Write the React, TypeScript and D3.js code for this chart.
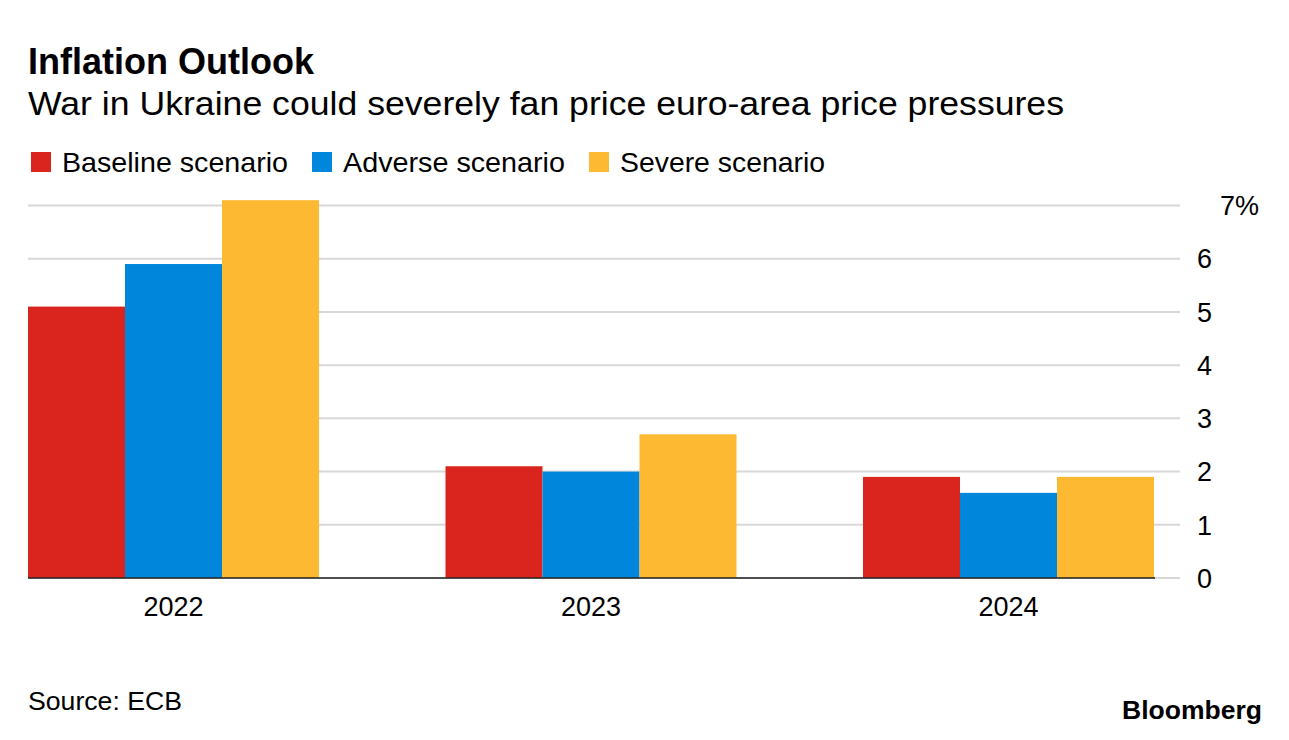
//@ts-nocheck
import { useEffect, useRef } from 'react';
import * as d3 from 'd3';

// chart data
const years = ['2022', '2023', '2024'];
const scenarios = ['Baseline scenario', 'Adverse scenario', 'Severe scenario'];
const baseline = [5.1, 2.1, 1.9];
const adverse = [5.9, 2.0, 1.6];
const severe = [7.1, 2.7, 1.9];
const yTicks = [0, 1, 2, 3, 4, 5, 6, 7];

const colors = ['#da251e', '#0087db', '#fcb931'];
const FONT = '"Liberation Sans", Arial, Helvetica, sans-serif';

const App = () => {
    const svgRef = useRef();

    useEffect(() => {
        const svg = d3.select(svgRef.current);
        svg.selectAll('*').remove();

        const left = 28;
        const barRight = 1154;
        const gridRight = 1180;
        const top = 205.5;
        const bottom = 578;

        const series = [baseline, adverse, severe];

        const x0 = d3.scaleBand().domain(years).range([left, barRight]).paddingInner(0.303).paddingOuter(0);
        const x1 = d3.scaleBand().domain(scenarios).range([0, x0.bandwidth()]).padding(0);
        const y = d3.scaleLinear().domain([0, 7]).range([bottom, top]);

        // Title block
        svg.append('text')
            .attr('x', left)
            .attr('y', 74)
            .style('font-family', FONT)
            .style('font-weight', 'bold')
            .style('font-size', '36px')
            .attr('fill', '#000')
            .text('Inflation Outlook');

        svg.append('text')
            .attr('x', left)
            .attr('y', 115)
            .attr('textLength', 1036)
            .attr('lengthAdjust', 'spacingAndGlyphs')
            .style('font-family', FONT)
            .style('font-size', '33px')
            .attr('fill', '#000')
            .text('War in Ukraine could severely fan price euro-area price pressures');

        // Legend
        const legendX = [31, 312, 589];
        const legendW = [226, 222, 205];
        scenarios.forEach((s, i) => {
            const item = svg.append('g').attr('transform', `translate(${legendX[i]}, 152)`);
            item.append('rect')
                .attr('width', 20)
                .attr('height', 20)
                .attr('fill', colors[i]);
            item.append('text')
                .attr('x', 31)
                .attr('y', 19.5)
                .attr('textLength', legendW[i])
                .attr('lengthAdjust', 'spacingAndGlyphs')
                .style('font-family', FONT)
                .style('font-size', '28px')
                .attr('fill', '#000')
                .text(s);
        });

        // Gridlines
        svg.append('g')
            .selectAll('line')
            .data(yTicks)
            .enter()
            .append('line')
            .attr('x1', left)
            .attr('x2', gridRight)
            .attr('y1', d => y(d))
            .attr('y2', d => y(d))
            .attr('stroke', '#d8d8d8')
            .attr('stroke-width', 2);

        // Right-hand tick labels
        svg.append('g')
            .selectAll('text')
            .data(yTicks)
            .enter()
            .append('text')
            .attr('x', d => (d === 7 ? 1220 : 1197))
            .attr('y', d => y(d))
            .attr('dy', '0.36em')
            .style('font-family', FONT)
            .style('font-size', '27px')
            .attr('fill', '#000')
            .text(d => (d === 7 ? `${d}%` : `${d}`));

        // Bars
        const groups = svg.append('g')
            .selectAll('g')
            .data(years)
            .enter()
            .append('g')
            .attr('transform', d => `translate(${x0(d)}, 0)`);

        groups.selectAll('rect')
            .data((d, i) => scenarios.map((s, j) => ({ key: s, value: series[j][i], j })))
            .enter()
            .append('rect')
            .attr('x', d => x1(d.key))
            .attr('width', x1.bandwidth())
            .attr('y', d => y(d.value))
            .attr('height', d => y(0) - y(d.value))
            .attr('fill', d => colors[d.j]);

        // Zero axis line
        svg.append('line')
            .attr('x1', left)
            .attr('x2', barRight + 1)
            .attr('y1', y(0))
            .attr('y2', y(0))
            .attr('stroke', '#222')
            .attr('stroke-width', 1.5);

        // Year labels
        svg.append('g')
            .selectAll('text')
            .data(years)
            .enter()
            .append('text')
            .attr('x', d => x0(d) + x0.bandwidth() / 2)
            .attr('y', 616)
            .attr('text-anchor', 'middle')
            .style('font-family', FONT)
            .style('font-size', '27px')
            .attr('fill', '#000')
            .text(d => d);

        // Footer
        svg.append('text')
            .attr('x', left)
            .attr('y', 710)
            .attr('textLength', 154)
            .attr('lengthAdjust', 'spacingAndGlyphs')
            .style('font-family', FONT)
            .style('font-size', '26px')
            .attr('fill', '#000')
            .text('Source: ECB');

        svg.append('text')
            .attr('x', 1122)
            .attr('y', 719)
            .attr('textLength', 140)
            .attr('lengthAdjust', 'spacingAndGlyphs')
            .style('font-family', FONT)
            .style('font-weight', 'bold')
            .style('font-size', '25px')
            .attr('fill', '#000')
            .text('Bloomberg');
    }, []);

    return (
        <svg ref={svgRef} width={1289} height={740} style={{ position: 'absolute', left: 0, top: 0, background: '#fff' }}></svg>
    );
};

export default App;
